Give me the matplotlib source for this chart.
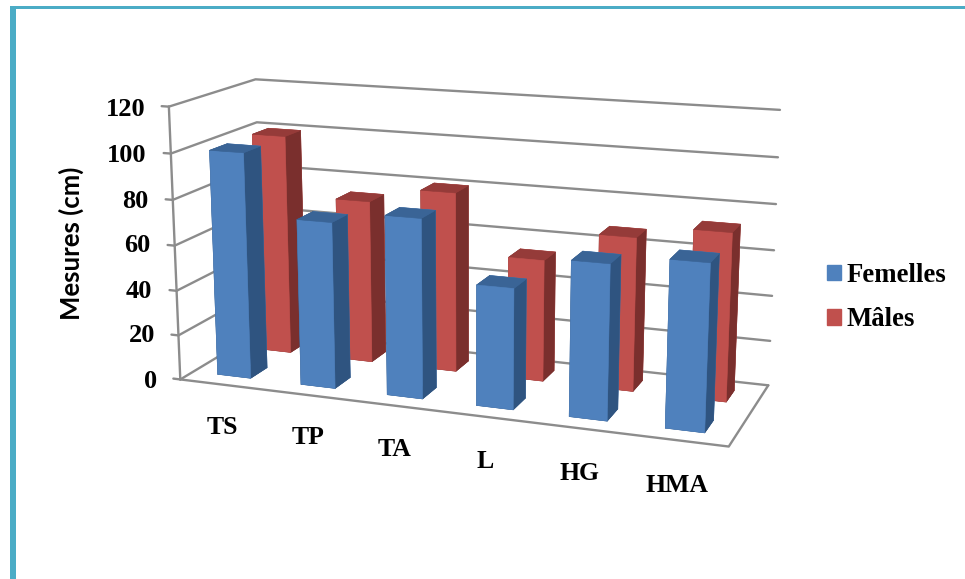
import matplotlib
matplotlib.use('Agg')
from matplotlib import pyplot as plt
from matplotlib.patches import Patch, Rectangle

categories = ['TS', 'TP', 'TA', 'L', 'HG', 'HMA']
femelles = [100, 73, 78, 52, 66, 70]
males = [100, 73.5, 80.5, 54, 67.5, 73]
z_ticks = [0, 20, 40, 60, 80, 100, 120]

W, H = 965, 579
SERIF = 'Liberation Serif'
GRID = '#8c8c8c'

# pixel positions of the category labels and the value labels
cat_label_xy = [(222, 427), (308, 438), (395, 450), (485, 461), (579, 473), (677, 486)]
tick_label_xy = [(157, 381), (155, 336), (152, 291), (150, 246), (148, 201), (146, 155), (145, 110)]

fig = plt.figure(figsize=(W / 100, H / 100), dpi=100)
ax = fig.add_axes([0.14755, 0.00109, 0.6668, 1.11133], projection='3d')
ax.set_xlim(0, 6, view_margin=0)
ax.set_ylim(0, 1, view_margin=0)
ax.set_zlim(0, 120, view_margin=0)
ax.view_init(elev=14.11, azim=-69.91)
ax.set_proj_type('persp', focal_length=0.5144)
ax.set_box_aspect((2.015, 0.6657, 1))
ax.set_axis_off()
ax.computed_zorder = False


def line3(xs, ys, zs):
    ax.plot(xs, ys, zs, color=GRID, lw=1.7, zorder=1, solid_capstyle='round')


# walls and floor
for z in z_ticks:
    line3([0, 0, 6], [0, 1, 1], [z, z, z])
    line3([-0.085, 0], [0, 0], [z, z])
line3([0, 0], [0, 0], [0, 120])
line3([0, 6, 6], [0, 0, 1], [0, 0, 0])


def draw_bars(values, y0, face_cols, zorder):
    # face order in bar3d is bottom, top, front, back, left, right
    bottom, top, front, side = face_cols
    cols = [bottom, top, front, front, side, side]
    for i, v in enumerate(values):
        ax.bar3d(i + 0.295, y0, 0, 0.40, 0.2, v, color=cols, shade=False,
                 edgecolor=cols, linewidth=0.4, zorder=zorder + i * 0.01)


draw_bars(males, 0.65, ('#7a2e2c', '#953b39', '#c0504d', '#7a2f2d'), 2)
draw_bars(femelles, 0.15, ('#2f5480', '#3a6496', '#4f81bd', '#2f5480'), 3)

for lab, (x, y) in zip(categories, cat_label_xy):
    fig.text(x / W, 1 - y / H, lab, family=SERIF, weight='bold', size=18.5, ha='center', va='center')
for z, (x, y) in zip(z_ticks, tick_label_xy):
    fig.text(x / W, 1 - y / H, str(z), family=SERIF, weight='bold', size=19, ha='right', va='center')

fig.text(71 / W, 1 - 243 / H, 'Mesures (cm)', family='Lato', weight='bold', size=18.5,
         rotation=90, ha='center', va='center')

handles = [Patch(color='#4f81bd', label='Femelles'), Patch(color='#c0504d', label='Mâles')]
fig.legend(handles=handles, loc='upper left', bbox_to_anchor=(803 / W, 1 - 239 / H), frameon=False,
           prop={'family': SERIF, 'weight': 'bold', 'size': 19.3}, handlelength=0.5, handleheight=0.5,
           handletextpad=0.22, labelspacing=0.72)

# teal frame, left and top sides only
fig.add_artist(Rectangle((10 / W, 0), 5.5 / W, 1 - 6 / H, transform=fig.transFigure, color='#4bacc6', lw=0))
fig.add_artist(Rectangle((10 / W, 1 - 8.5 / H), 1 - 10 / W, 2.5 / H, transform=fig.transFigure, color='#4bacc6', lw=0))

fig.savefig('out.png', dpi=100)
